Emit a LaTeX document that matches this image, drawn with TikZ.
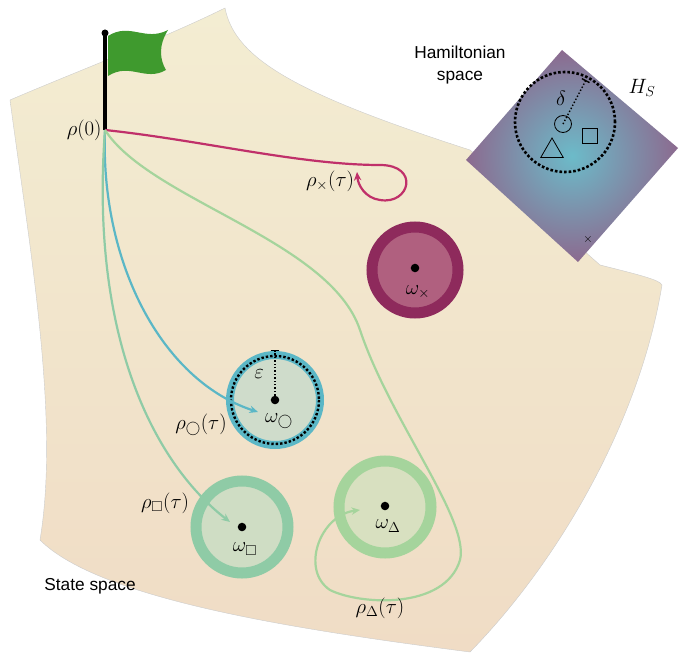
\documentclass[tikz,border=0pt]{standalone}
\usepackage{amsmath,amssymb}
\usepackage{fontspec}
\setmainfont{Liberation Sans}
\usetikzlibrary{arrows.meta, positioning, calc, shapes.geometric}
\definecolor{paleY}{HTML}{F3EDD2}
\definecolor{paleP}{HTML}{F0DCC5}
\definecolor{magL}{HTML}{C0306A}
\definecolor{magO}{HTML}{8E2A5C}
\definecolor{magI}{HTML}{B0607F}
\definecolor{cyanL}{HTML}{5BB7C6}
\definecolor{cyanI}{HTML}{CFDCCB}
\definecolor{sqO}{HTML}{8FCBA6}
\definecolor{sqI}{HTML}{CFDDC4}
\definecolor{trO}{HTML}{A5D49C}
\definecolor{trI}{HTML}{D8E0C0}
\definecolor{flagG}{HTML}{3F9A2E}
\definecolor{hamC}{HTML}{6CBBC9}
\definecolor{hamE}{HTML}{8C6A8F}
\tikzset{
	traj/.style={line width=2.2pt, -{Stealth[length=3mm, width=2.6mm]}},
	lbl/.style={font=\huge},
	txt/.style={font=\LARGE},
	ctr/.style={circle, fill=black, inner sep=0pt, minimum size=3mm}
}
\begin{document}
\begin{tikzpicture}[x=1pt, y=-1pt]
	% --- Frame ---
	\useasboundingbox (0,0) rectangle (685,658);
	
	% --- State space ---
	\shade[top color=paleY, bottom color=paleP, draw=gray!40]
		(10,100) .. controls (80,70) and (160,40) .. (225,8)
		.. controls (235,60) and (300,95) .. (470,150)
		-- (600,265) .. controls (640,275) and (660,280) .. (662,285)
		.. controls (640,420) and (560,560) .. (470,652)
		.. controls (300,630) and (100,600) .. (40,540)
		.. controls (60,420) and (30,250) .. (10,100) -- cycle;
	
	% --- Hamiltonian space ---
	\shade[inner color=hamC, outer color=hamE] (562,50) -- (678,148) -- (578,262) -- (466,160) -- cycle;
	\node[circle, draw, line width=2.6pt, dotted, minimum size=100pt] (hring) at (565,122) {};
	\node[circle, draw, thick, minimum size=17pt, inner sep=0pt] (hcirc) at (563,124) {};
	\node[rectangle, draw, thick, minimum size=15pt, inner sep=0pt] (hsq) at (590,136) {};
	\node[regular polygon, regular polygon sides=3, draw, thick, minimum size=26pt, inner sep=0pt] (htri) at (552,151) {};
	\coordinate (htop) at (586,80);
	\draw[dotted, line width=1.4pt, -{Bar[width=3mm]}] (hcirc.center) -- (htop);
	\node[lbl] (delta) at (561,98) {$\delta$};
	\node[font=\large] (hx) at (588,239) {$\times$};
	\node[lbl] (hs) at (642,88) {$H_S$};
	\node[txt, align=center] (hamlab) at (460,65) {Hamiltonian\\space};
	
	% --- Target circles ---
	\filldraw[fill=magI, draw=magO, line width=11pt] (415,270) circle (43);
	\node[ctr] (wx) at (415,268) {};
	\node[lbl] (wxl) at (418,292) {$\omega_{\times}$};
	
	\filldraw[fill=cyanI, draw=cyanL, line width=8pt] (275,400) circle (45);
	\draw[dotted, line width=2.4pt] (275,400) circle (44);
	\node[ctr] (wo) at (275,400) {};
	\node[lbl] (wol) at (279,421) {$\omega_{\bigcirc}$};
	\coordinate (otop) at (275,350);
	\draw[dotted, line width=1.4pt, -{Bar[width=3mm]}] (wo) -- (otop);
	\node[lbl] (eps) at (259,374) {$\varepsilon$};
	
	\filldraw[fill=sqI, draw=sqO, line width=11pt] (242,527) circle (46);
	\node[ctr] (ws) at (242,527) {};
	\node[lbl] (wsl) at (245,549) {$\omega_{\square}$};
	
	\filldraw[fill=trI, draw=trO, line width=11pt] (385,507) circle (46);
	\node[ctr] (wt) at (385,506) {};
	\node[lbl] (wtl) at (388,526) {$\omega_{\Delta}$};
	
	% --- Flag ---
	\coordinate (pbot) at (105,130);
	\coordinate (ptop) at (105,33);
	\draw[line width=3.5pt] (pbot) -- (ptop);
	\fill (ptop) circle (3.5);
	\fill[flagG] (108,36) .. controls (130,22) and (145,42) .. (168,30)
		.. controls (158,46) and (160,60) .. (166,70)
		.. controls (145,82) and (130,62) .. (108,76) -- cycle;
	\node[lbl, left=0pt of pbot] (r0) {$\rho(0)$};
	
	% --- Trajectories ---
	\coordinate (ex) at (357,172);
	\coordinate (eo) at (258,412);
	\coordinate (es) at (230,522);
	\coordinate (et) at (360,510);
	\draw[traj, magL] (pbot) .. controls (200,140) and (300,165) .. (380,165)
		.. controls (420,165) and (410,205) .. (380,200)
		.. controls (365,198) and (358,185) .. (ex);
	\draw[traj, cyanL] (pbot) .. controls (100,260) and (160,380) .. (eo);
	\draw[traj, sqO] (pbot) .. controls (90,330) and (150,460) .. (es);
	\draw[traj, trO] (pbot) .. controls (150,200) and (330,240) .. (360,330)
		.. controls (390,420) and (470,520) .. (460,560)
		.. controls (445,610) and (360,605) .. (330,590)
		.. controls (300,570) and (320,515) .. (et);
	\node[lbl] (rx) at (330,181) {$\rho_{\times}(\tau)$};
	\node[lbl] (ro) at (201,425) {$\rho_{\bigcirc}(\tau)$};
	\node[lbl] (rs) at (165,503) {$\rho_{\square}(\tau)$};
	\node[lbl] (rt) at (380,608) {$\rho_{\Delta}(\tau)$};
	\node[txt] (state) at (90,586) {State space};
\end{tikzpicture}
\end{document}
